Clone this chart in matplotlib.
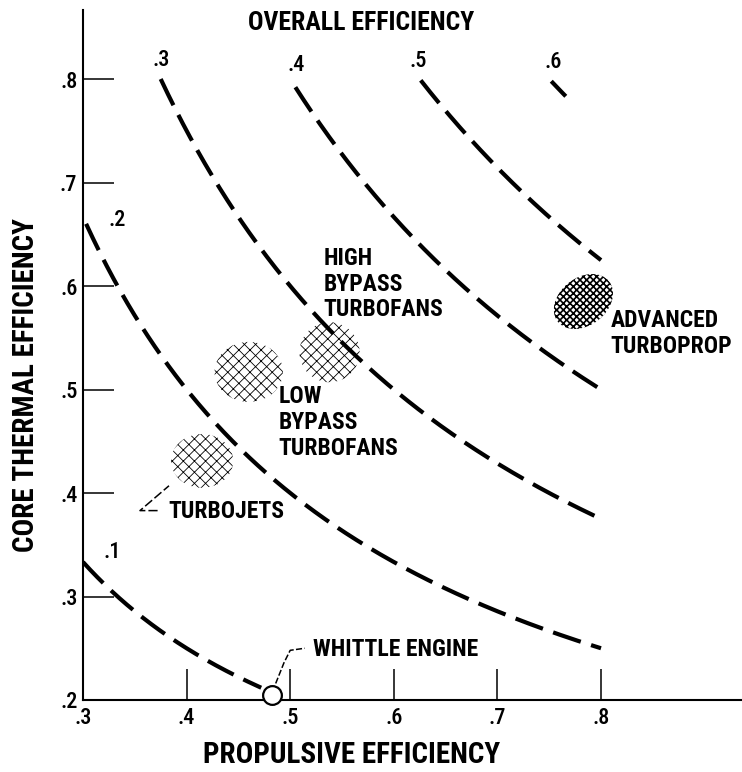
import os
import numpy as np
import matplotlib
matplotlib.use("Agg")
import matplotlib.pyplot as plt
from matplotlib import font_manager as fm
from matplotlib.patches import Ellipse

# ---------------- data ----------------
overall_levels = [0.1, 0.2, 0.3, 0.4, 0.5, 0.6]
curve_x_start = [0.300, 0.303, 0.375, 0.505, 0.626, 0.752]
curve_x_end = [0.472, 0.800, 0.800, 0.800, 0.800, 0.766]
level_labels = [".1", ".2", ".3", ".4", ".5", ".6"]
level_label_x = [0.328, 0.333, 0.375, 0.506, 0.624, 0.754]
level_label_y = [0.343, 0.664, 0.818, 0.814, 0.817, 0.816]

x_ticks = [0.3, 0.4, 0.5, 0.6, 0.7, 0.8]
x_tick_labels = [".3", ".4", ".5", ".6", ".7", ".8"]
y_ticks = [0.2, 0.3, 0.4, 0.5, 0.6, 0.7, 0.8]
y_tick_labels = [".2", ".3", ".4", ".5", ".6", ".7", ".8"]

engine_prop_eff = [0.415, 0.460, 0.538, 0.783]
engine_core_eff = [0.431, 0.517, 0.536, 0.585]
engine_width = [0.060, 0.066, 0.058, 0.063]
engine_height = [0.052, 0.058, 0.058, 0.046]
engine_angle = [0, 0, 0, 38]
engine_hatch = ["xxx", "xxx", "xxx", "xxxxx"]

whittle_prop = 0.482
whittle_core = 0.205

annot_lines = ["HIGH", "BYPASS", "TURBOFANS",
               "LOW", "BYPASS", "TURBOFANS",
               "TURBOJETS", "WHITTLE ENGINE",
               "ADVANCED", "TURBOPROP"]
annot_x = [0.532, 0.532, 0.532,
           0.489, 0.489, 0.489,
           0.382, 0.522,
           0.809, 0.809]
annot_y = [0.627, 0.601, 0.577,
           0.493, 0.468, 0.443,
           0.382, 0.249,
           0.567, 0.542]

# ---------------- fonts ----------------
def find_font(patterns):
    files = sorted({f.fname for f in fm.fontManager.ttflist})
    for p in patterns:
        for f in files:
            if os.path.basename(f).lower().startswith(p.lower()):
                return f
    return None

bold_path = find_font(["LiberationSansNarrow-Bold.", "RobotoCondensed-Bold.",
                       "NotoSans-CondensedBold.", "DejaVuSansCondensed-Bold."])
reg_path = find_font(["LiberationSansNarrow-Regular.", "RobotoCondensed-Medium.",
                      "RobotoCondensed-Regular.", "NotoSans-CondensedMedium.",
                      "NotoSans-Condensed.", "DejaVuSansCondensed."])

def fp(size, bold=True):
    path = bold_path if bold else reg_path
    if path:
        return fm.FontProperties(fname=path, size=size)
    return fm.FontProperties(family="DejaVu Sans", weight="bold" if bold else "normal",
                             size=size * 0.8)

plt.rcParams["hatch.linewidth"] = 0.6

# ---------------- figure ----------------
W, H = 742, 772
PX_PER_UNIT_X = 1036.0   # pixels per 1.0 of propulsive efficiency
PX_PER_UNIT_Y = 1035.0   # pixels per 1.0 of core thermal efficiency
fig = plt.figure(figsize=(W / 100, H / 100), dpi=100)
left_px, bottom_px, top_px = 83, 700, 10
ax = fig.add_axes([left_px / W, (H - bottom_px) / H, (W - left_px) / W, (bottom_px - top_px) / H])
ax.set_xlim(0.3, 0.3 + (W - left_px) / PX_PER_UNIT_X)
ax.set_ylim(0.2, 0.2 + (bottom_px - top_px) / PX_PER_UNIT_Y)

for s in ["top", "right"]:
    ax.spines[s].set_visible(False)
for s in ["left", "bottom"]:
    ax.spines[s].set_linewidth(1.5)

ax.set_xticks(x_ticks)
ax.set_xticklabels(x_tick_labels, fontproperties=fp(16, bold=False))
ax.set_yticks(y_ticks)
ax.set_yticklabels(y_tick_labels, fontproperties=fp(16, bold=False))
ax.tick_params(axis="both", direction="in", length=22, width=1.1, color="black")
ax.tick_params(axis="x", pad=5)
ax.tick_params(axis="y", pad=4)

# iso overall-efficiency curves
for lev, xs, xe in zip(overall_levels, curve_x_start, curve_x_end):
    xx = np.linspace(xs, xe, 300)
    ax.plot(xx, lev / xx, color="black", lw=3.0, linestyle=(0, (7.0, 2.6)),
            dash_capstyle="butt", solid_capstyle="butt", zorder=3)

for lab, lx, ly in zip(level_labels, level_label_x, level_label_y):
    ax.text(lx, ly, lab, fontproperties=fp(16, bold=False), ha="center", va="center")

ax.text(0.568, 0.854, "OVERALL EFFICIENCY", fontproperties=fp(18.5),
        ha="center", va="center")

# engine regions (hatched)
for px_, cy, w, h, a, hat in zip(engine_prop_eff, engine_core_eff, engine_width,
                                  engine_height, engine_angle, engine_hatch):
    e = Ellipse((px_, cy), w, h, angle=a, facecolor="none", edgecolor="black",
                linewidth=0, hatch=hat, zorder=2)
    if hat == "xxxxx" and hasattr(e, "set_hatch_linewidth"):
        e.set_hatch_linewidth(1.2)
    ax.add_patch(e)

# annotations
for t, tx, ty in zip(annot_lines, annot_x, annot_y):
    ax.text(tx, ty, t, fontproperties=fp(17), ha="left", va="center")

# Whittle engine point and leaders
ax.plot([whittle_prop], [whittle_core], "o", ms=13.5, mfc="white", mec="black",
        mew=1.6, zorder=5, clip_on=False)
ax.plot([0.486, 0.494, 0.500, 0.514], [0.216, 0.236, 0.248, 0.250], color="black", lw=1.1,
        linestyle=(0, (4, 1.5)))
ax.plot([0.372, 0.355, 0.383], [0.383, 0.383, 0.407], color="black", lw=1.1,
        linestyle=(0, (6, 2)))

# axis labels
fig.text(352 / W, 1 - 755 / H, "PROPULSIVE EFFICIENCY", fontproperties=fp(21),
         ha="center", va="center")
fig.text(26 / W, 1 - 385 / H, "CORE THERMAL EFFICIENCY", fontproperties=fp(21),
         ha="center", va="center", rotation=90)

fig.savefig("out.png", dpi=100)
